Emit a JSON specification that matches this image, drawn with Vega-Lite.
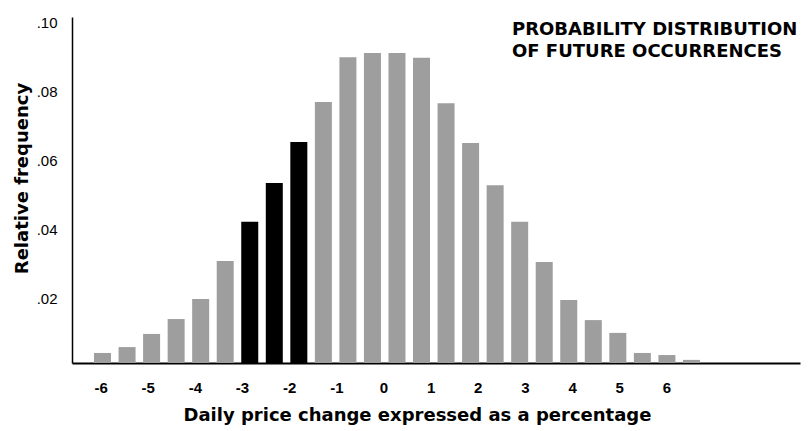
{
  "$schema": "https://vega.github.io/schema/vega-lite/v6.json",
  "autosize": {"type": "none"},
  "width": 728,
  "height": 346,
  "padding": {"left": 72, "top": 17, "right": 8, "bottom": 68},
  "background": "#ffffff",
  "title": {
    "text": ["PROBABILITY DISTRIBUTION", "OF FUTURE OCCURRENCES"],
    "anchor": "start",
    "frame": "group",
    "orient": "top",
    "dx": 440,
    "dy": 46,
    "offset": 0,
    "baseline": "top",
    "font": "DejaVu Sans",
    "fontSize": 18,
    "fontWeight": "bold",
    "lineHeight": 22,
    "color": "#000000"
  },
  "data": {
    "values": [
      {"change": -6, "frequency": 0.0029, "highlight": "no"},
      {"change": -5.5, "frequency": 0.0046, "highlight": "no"},
      {"change": -5, "frequency": 0.0084, "highlight": "no"},
      {"change": -4.5, "frequency": 0.0127, "highlight": "no"},
      {"change": -4, "frequency": 0.0185, "highlight": "no"},
      {"change": -3.5, "frequency": 0.0295, "highlight": "no"},
      {"change": -3, "frequency": 0.0408, "highlight": "yes"},
      {"change": -2.5, "frequency": 0.052, "highlight": "yes"},
      {"change": -2, "frequency": 0.0639, "highlight": "yes"},
      {"change": -1.5, "frequency": 0.0754, "highlight": "no"},
      {"change": -1, "frequency": 0.0884, "highlight": "no"},
      {"change": -0.5, "frequency": 0.0896, "highlight": "no"},
      {"change": 0, "frequency": 0.0896, "highlight": "no"},
      {"change": 0.5, "frequency": 0.0882, "highlight": "no"},
      {"change": 1, "frequency": 0.0751, "highlight": "no"},
      {"change": 1.5, "frequency": 0.0636, "highlight": "no"},
      {"change": 2, "frequency": 0.0514, "highlight": "no"},
      {"change": 2.5, "frequency": 0.0408, "highlight": "no"},
      {"change": 3, "frequency": 0.0292, "highlight": "no"},
      {"change": 3.5, "frequency": 0.0182, "highlight": "no"},
      {"change": 4, "frequency": 0.0124, "highlight": "no"},
      {"change": 4.5, "frequency": 0.0087, "highlight": "no"},
      {"change": 5, "frequency": 0.0029, "highlight": "no"},
      {"change": 5.5, "frequency": 0.0023, "highlight": "no"},
      {"change": 6, "frequency": 0.0009, "highlight": "no"}
    ]
  },
  "layer": [
    {
      "mark": {"type": "bar", "width": 17},
      "encoding": {
        "x": {
          "field": "change",
          "type": "quantitative",
          "scale": {"domain": [-6.52, 8.11], "nice": false, "zero": false},
          "axis": null
        },
        "y": {
          "field": "frequency",
          "type": "quantitative",
          "scale": {"domain": [0, 0.1], "nice": false},
          "axis": {
            "values": [0.02, 0.04, 0.06, 0.08, 0.1],
            "labelExpr": "replace(format(datum.value, '.2f'), '0.', '.')",
            "ticks": false,
            "tickSize": 0,
            "grid": false,
            "domainColor": "#000000",
            "domainWidth": 1.5,
            "labelFont": "Liberation Sans Narrow, Liberation Sans, sans-serif",
            "labelFontSize": 15,
            "labelColor": "#000000",
            "labelPadding": 15,
            "labelOffset": 5,
            "title": "Relative frequency",
            "titleFont": "DejaVu Sans",
            "titleFontSize": 18,
            "titleFontWeight": "bold",
            "titleColor": "#000000",
            "titleX": -45,
            "titleY": 161,
            "titleAlign": "center",
            "titleBaseline": "alphabetic",
            "titleAngle": -90
          }
        },
        "color": {
          "field": "highlight",
          "type": "nominal",
          "scale": {"domain": ["yes", "no"], "range": ["#000000", "#9e9e9e"]},
          "legend": null
        }
      }
    },
    {
      "mark": {"type": "point", "opacity": 0},
      "encoding": {
        "x": {
          "field": "change",
          "type": "quantitative",
          "scale": {"domain": [-6.606, 8.834], "nice": false, "zero": false},
          "axis": {
            "values": [-6, -5, -4, -3, -2, -1, 0, 1, 2, 3, 4, 5, 6],
            "labelExpr": "datum.value < 0 ? '-' + abs(datum.value) : '' + datum.value",
            "ticks": false,
            "tickSize": 0,
            "grid": false,
            "domainColor": "#000000",
            "domainWidth": 2,
            "labelFont": "Liberation Sans Narrow, Liberation Sans, sans-serif",
            "labelFontSize": 15,
            "labelFontWeight": "bold",
            "labelColor": "#000000",
            "labelPadding": 17,
            "labelFlush": false,
            "labelOverlap": false,
            "title": "Daily price change expressed as a percentage",
            "titleFont": "DejaVu Sans",
            "titleFontSize": 18,
            "titleFontWeight": "bold",
            "titleColor": "#000000",
            "titleX": 345,
            "titleY": 57,
            "titleAlign": "center",
            "titleBaseline": "alphabetic"
          }
        }
      }
    }
  ],
  "resolve": {"scale": {"x": "independent"}, "axis": {"x": "independent"}},
  "config": {"view": {"stroke": null}}
}
